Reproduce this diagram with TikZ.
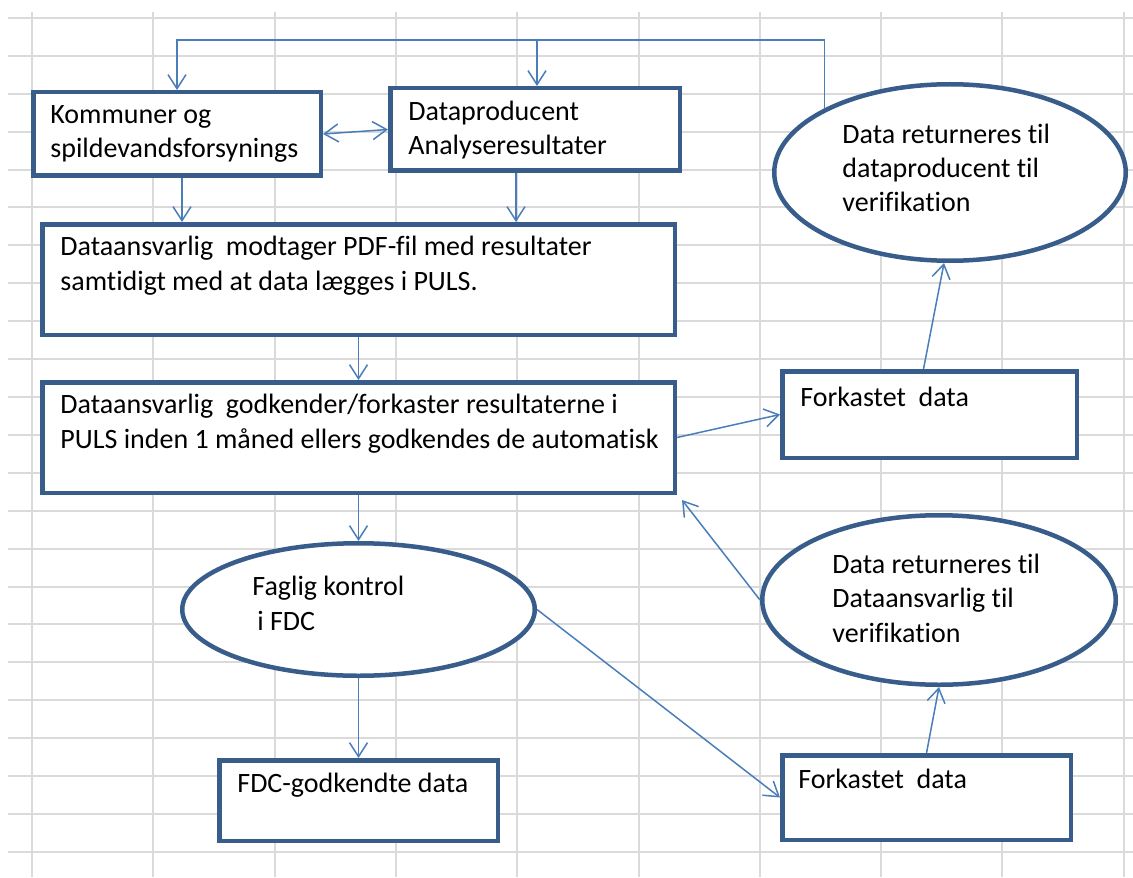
\documentclass[tikz,border=0pt]{standalone}
\usepackage{fontspec}
\setmainfont{Carlito}[Ligatures=CommonOff]
\usetikzlibrary{arrows.meta, shapes.geometric}
\definecolor{boxline}{HTML}{385D8A}
\definecolor{linkline}{HTML}{4A7EBB}
\definecolor{cellline}{HTML}{DADADA}
\begin{document}
\begin{tikzpicture}[x=0.5pt, y=-0.5pt]
\tikzstyle{every node}+=[inner sep=0pt]
\tikzstyle{box}=[draw=boxline, line width=2.25pt, rectangle, fill=white]
\tikzstyle{oval}=[draw=boxline, line width=2.25pt, ellipse, fill=white]
\tikzstyle{txt}=[anchor=base west, align=left, font=\fontsize{14}{17.2}\selectfont, text=black]
\tikzstyle{link}=[draw=linkline, line width=0.75pt, -{Straight Barb[length=7pt,width=9pt]}]
\tikzstyle{cell}=[draw=cellline, line width=1pt]
\useasboundingbox (0,0) rectangle (1133,877);
\fill[white] (0,0) rectangle (1133,877);
\foreach \gx in {0,...,9} \draw[cell] (32+121.3*\gx,12) -- (32+121.3*\gx,877);
\foreach \gy in {0,...,22} \draw[cell] (8,18+37.9*\gy) -- (1133,18+37.9*\gy);
\node[box, minimum width=143.75pt, minimum height=41.75pt] (kom) at (177,134) {};
\node[box, minimum width=144.75pt, minimum height=41.25pt] (prod) at (535,129.5) {};
\node[box, minimum width=316.25pt, minimum height=55.25pt] (modt) at (358.5,279.5) {};
\node[box, minimum width=316.25pt, minimum height=55.25pt] (godk) at (358.5,437.5) {};
\node[box, minimum width=147.25pt, minimum height=43.25pt] (fork1) at (929.5,414.5) {};
\node[box, minimum width=139.25pt, minimum height=40.25pt] (fdcok) at (358.5,800.5) {};
\node[box, minimum width=144.25pt, minimum height=42.25pt] (fork2) at (926.5,797.5) {};
\node[oval, minimum width=175.75pt, minimum height=88.25pt] (ell1) at (950,172.5) {};
\node[oval, minimum width=176.75pt, minimum height=84.75pt] (ell2) at (939,600) {};
\node[oval, minimum width=176.25pt, minimum height=66.25pt] (fag) at (358.5,609.5) {};
\node[txt] (komtxt) at (50,158) {Kommuner og\\spildevandsforsynings};
\node[txt] (prodtxt) at (408,155) {Dataproducent\\Analyseresultater};
\node[txt] (modttxt) at (60,290) {Dataansvarlig\ \ modtager PDF-fil med resultater\\samtidigt med at data lægges i PULS.};
\node[txt] (godktxt) at (60,448) {Dataansvarlig\ \ godkender/forkaster resultaterne i\\PULS inden 1 måned ellers godkendes de automatisk};
\node[txt] (fork1txt) at (800,406) {Forkastet\ \ data};
\node[txt] (ell1txt) at (842,212) {Data returneres til\\dataproducent til\\verifikation};
\node[txt] (ell2txt) at (832,642) {Data returneres til\\Dataansvarlig til\\verifikation};
\node[txt] (fagtxt) at (252,630) {Faglig kontrol\\\hspace{2.5pt}i FDC};
\node[txt] (fdcoktxt) at (237,792) {FDC-godkendte data};
\node[txt] (fork2txt) at (798,788) {Forkastet\ \ data};
\coordinate (junc) at (537,40);
\draw[link] (ell1.153) |- (junc) -| (kom.north);
\draw[link] (junc) -- (prod.north -| junc);
\draw[link, {Straight Barb[length=7pt,width=9pt]}-{Straight Barb[length=7pt,width=9pt]}] (kom.east) -- (prod.west);
\draw[link] ([xshift=2.5pt]kom.south) -- ([xshift=2.5pt]kom.south |- modt.north);
\draw[link] ([xshift=-9.5pt]prod.south) -- ([xshift=-9.5pt]prod.south |- modt.north);
\draw[link] (modt) -- (godk);
\draw[link] (godk) -- (fag);
\draw[link] (fag) -- (fdcok);
\draw[link] (godk.east) -- (fork1.west);
\draw[link] ([xshift=-3pt]fork1.north) -- ([xshift=-3pt]ell1.south);
\draw[link] (ell2.west) -- ([shift={(2.5pt,-2.5pt)}]godk.south east);
\draw[link] (fag.east) -- (fork2.west);
\draw[link] (fork2.north) -- (ell2.south);
\end{tikzpicture}
\end{document}
